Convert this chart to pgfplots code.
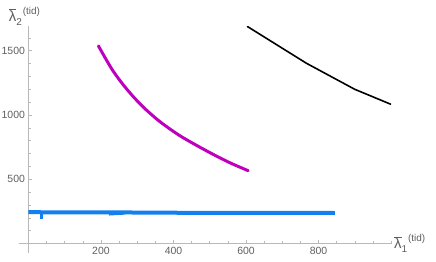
\documentclass[border=0pt]{standalone}
\usepackage{fontspec}
\setmainfont{Liberation Sans}
\usepackage{pgfplots}
\pgfplotsset{compat=1.18}
\definecolor{tickgray}{RGB}{95,95,95}
\definecolor{axgray}{RGB}{185,185,185}
\definecolor{mag}{RGB}{190,0,190}
\definecolor{blu}{RGB}{20,128,240}
\newcommand{\lab}[1]{{\fontsize{15}{15}\selectfont$\overline{\hbox{λ}}$}{\fontsize{10}{10}\selectfont\raisebox{-3.5bp}{#1}\hspace{0.8bp}\raisebox{7bp}{(tid)}}}
\begin{document}
\begin{tikzpicture}[x=1bp,y=1bp]
\path[use as bounding box] (0,0) rectangle (436,261);
\begin{axis}[
  at={(19.4bp,8.4bp)}, anchor=south west,
  scale only axis, width=371.6bp, height=226.3bp,
  xmin=-25, xmax=1000, ymin=-70, ymax=1690,
  axis lines*=middle,
  axis line style={draw=axgray, line width=0.6bp},
  xtick={200,400,600,800}, ytick={500,1000,1500},
  minor xtick={0,50,...,1000}, minor ytick={0,100,...,1600},
  tick align=inside,
  major tick length=4bp, minor tick length=2.5bp,
  tick style={draw=axgray, line width=0.5bp},
  ticklabel style={font=\fontsize{10.5}{12}\selectfont, text=tickgray},
  /pgf/number format/assume math mode=true,
  /pgf/number format/1000 sep={},
  clip mode=individual,
]
\addplot[black, line width=1.6bp] coordinates {(603,1690) (767,1402) (900,1200) (1000,1083)};
\addplot[mag, line width=3bp, smooth, line cap=round] coordinates {(193,1537) (215,1428) (234,1340) (260,1240) (290,1140) (321,1050) (360,954) (400,872) (427,823) (470,754) (519,680) (560,623) (606,567)};
\addplot[blu, line width=4bp] coordinates {(0,244) (220,243) (400,240) (845,238)};
\addplot[blu, line width=2.5bp] coordinates {(222,228) (265,235)};
\addplot[blu, line width=2.5bp] coordinates {(36,244) (36,192)};
\node[anchor=south, text=tickgray, inner sep=1bp, xshift=-4bp] at (axis cs:0,1690) {\lab{2}};
\node[anchor=west, text=tickgray, inner sep=1bp, xshift=2bp] at (axis cs:1000,0) {\lab{1}};
\end{axis}
\end{tikzpicture}
\end{document}
